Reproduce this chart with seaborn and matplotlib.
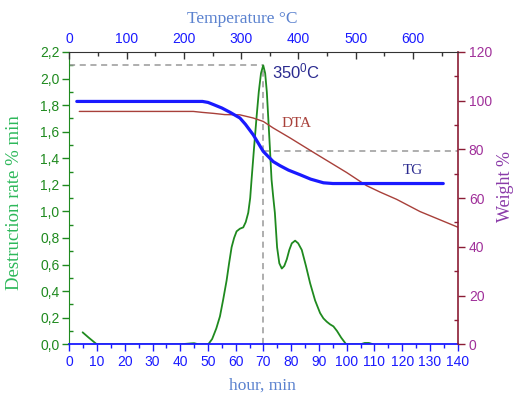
import numpy as np
import pandas as pd
import matplotlib
matplotlib.use("Agg")
import matplotlib.pyplot as plt
import seaborn as sns
from matplotlib.ticker import MultipleLocator, FuncFormatter

# ---- data ----
rate_time = [4.8, 7.0, 9.9, 20, 30, 40, 43.5, 45, 46.5, 50.1, 51.5, 53.0, 54.3, 55.5, 56.7, 57.6,
             58.5, 59.4, 60.3, 61.5, 62.7, 63.6, 64.5, 65.2, 65.7, 66.6, 67.5, 68.3, 69.1, 69.9,
             70.6, 71.2, 71.7, 72.3, 72.9, 73.5, 74.1, 74.9, 75.7, 76.6, 77.5, 78.4, 79.3, 80.2,
             81.4, 82.5, 83.8, 85.3, 86.8, 88.6, 90.4, 91.6, 92.8, 94.0, 95.2, 96.5, 98.0, 99.8,
             105, 106.5, 108, 109.5]
rate_val = [0.09, 0.05, 0.0, 0.0, 0.0, 0.0, 0.006, 0.008, 0.0, 0.0, 0.04, 0.12, 0.21, 0.34, 0.48, 0.61,
            0.73, 0.80, 0.85, 0.87, 0.88, 0.92, 0.99, 1.10, 1.24, 1.48, 1.71, 1.90, 2.04, 2.10,
            2.04, 1.90, 1.71, 1.48, 1.24, 1.11, 0.99, 0.73, 0.61, 0.57, 0.59, 0.64, 0.71, 0.76,
            0.78, 0.76, 0.71, 0.59, 0.46, 0.33, 0.235, 0.195, 0.17, 0.15, 0.135, 0.10, 0.05, 0.0,
            0.0, 0.01, 0.01, 0.0]

tg_time = [2.7, 48, 50, 52, 55, 58, 61.5, 63.5, 66.3, 69.9, 73.5, 76, 79, 83.2, 87, 91.6, 95, 134.8]
tg_val = [99.7, 99.7, 99.3, 98.4, 97.0, 95.2, 92.9, 90.3, 86.0, 79.2, 75.0, 73.3, 71.5, 69.6, 67.8, 66.3, 66.0, 66.0]

dta_time = [3.6, 44.7, 48, 52, 56, 61.5, 66.3, 69.9, 73.5, 79.6, 88, 100, 107.2, 112, 118, 126.4, 140]
dta_val = [95.6, 95.6, 95.2, 94.8, 94.3, 94.2, 92.9, 91.5, 88.8, 84.7, 78.8, 70.5, 65.1, 62.5, 59.5, 54.5, 48.1]

left_ticks = [0.0, 0.2, 0.4, 0.6, 0.8, 1.0, 1.2, 1.4, 1.6, 1.8, 2.0, 2.2]
bottom_ticks = list(range(0, 141, 10))
right_ticks = [0, 20, 40, 60, 80, 100, 120]
top_ticks = [0, 100, 200, 300, 400, 500, 600]
temp_max = 678  # temperature at 140 min

rate_df = pd.DataFrame({"time": rate_time, "rate": rate_val})
tg_df = pd.DataFrame({"time": tg_time, "weight": tg_val})
dta_df = pd.DataFrame({"time": dta_time, "weight": dta_val})

# ---- style ----
sns.set_style("white")
plt.rcParams["font.family"] = ["Liberation Sans", "DejaVu Sans"]
plt.rcParams["mathtext.fontset"] = "custom"
plt.rcParams["mathtext.rm"] = "Liberation Sans"
plt.rcParams["mathtext.default"] = "rm"

GREEN = "#1f8a1f"
GREEN_LBL = "#2db85a"
BLUE = "#1a1aff"
BLUE_LBL = "#5b82cf"
PURPLE = "#a0309a"
PURPLE_LBL = "#8a3aa8"
DARKRED = "#8b1c35"
BROWN = "#a8403a"
NAVY = "#2a2a8f"

fig = plt.figure(figsize=(5.16, 3.96), dpi=100)
ax = fig.add_axes([0.1343, 0.1306, 0.7527, 0.7381])
ax2 = ax.twinx()
ax3 = ax.twiny()

sns.lineplot(data=rate_df, x="time", y="rate", ax=ax, color=GREEN, lw=1.3, sort=False)
sns.lineplot(data=dta_df, x="time", y="weight", ax=ax2, color=BROWN, lw=1.0, sort=False)
sns.lineplot(data=tg_df, x="time", y="weight", ax=ax2, color=BLUE, lw=2.3, sort=False)

ax.set_xlim(0, 140)
ax.set_ylim(0, 2.2)
ax2.set_ylim(0, 120)
ax3.set_xlim(0, temp_max)

# guide lines from the peak
ipk = int(np.argmax(rate_val))
pk_t, pk_v = rate_time[ipk], rate_val[ipk]
tg_at_pk = float(np.interp(pk_t, tg_time, tg_val))
ax.plot([0, pk_t], [pk_v, pk_v], ls=(0, (4, 3)), color="#999999", lw=1.1, zorder=1)
ax.plot([pk_t, pk_t], [0, pk_v], ls=(0, (4, 3)), color="#999999", lw=1.1, zorder=1)
ax2.plot([pk_t, 140], [tg_at_pk, tg_at_pk], ls=(0, (4, 3)), color="#999999", lw=1.1, zorder=1)

ax.text(pk_t + 3.2, 2.0, "350$^0$C", color=NAVY, fontsize=12, ha="left", va="baseline")
ax2.text(82, 90.5, "DTA", color=BROWN, fontsize=11, family=["Liberation Serif"], ha="center", va="center")
ax2.text(124, 71.5, "TG", color=NAVY, fontsize=11, family=["Liberation Serif"], ha="center", va="center")

# ---- axes formatting ----
for a in (ax, ax2, ax3):
    for s in a.spines.values():
        s.set_visible(False)
    a.set_xlabel("")
    a.set_ylabel("")

ax.spines["left"].set_visible(True)
ax.spines["left"].set_color(GREEN)
ax.spines["bottom"].set_visible(True)
ax.spines["bottom"].set_color(BLUE)
ax.spines["bottom"].set_linewidth(1.3)
ax2.spines["right"].set_visible(True)
ax2.spines["right"].set_color(DARKRED)
ax2.spines["right"].set_linewidth(1.2)
ax3.spines["top"].set_visible(True)
ax3.spines["top"].set_color("#333333")

ax.set_yticks(left_ticks)
ax.yaxis.set_minor_locator(MultipleLocator(0.1))
ax.yaxis.set_major_formatter(FuncFormatter(lambda v, p: f"{v:.1f}".replace(".", ",")))
ax.tick_params(axis="y", which="major", direction="out", length=5, width=1, color=GREEN,
               labelcolor=GREEN, labelsize=10, pad=2, left=True)
ax.tick_params(axis="y", which="minor", direction="in", length=3, width=1, color=GREEN, left=True)

ax.set_xticks(bottom_ticks)
ax.xaxis.set_minor_locator(MultipleLocator(5))
ax.tick_params(axis="x", which="major", direction="out", length=5, width=1, color=BLUE,
               labelcolor=BLUE, labelsize=10, pad=3, bottom=True)
ax.tick_params(axis="x", which="minor", direction="out", length=3, width=1, color=BLUE, bottom=True)

ax2.set_yticks(right_ticks)
ax2.yaxis.set_minor_locator(MultipleLocator(10))
ax2.tick_params(axis="y", which="major", direction="out", length=5, width=1, color=DARKRED,
                labelcolor=PURPLE, labelsize=10, pad=3, right=True)
ax2.tick_params(axis="y", which="minor", direction="in", length=3, width=1, color=DARKRED, right=True)

ax3.set_xticks(top_ticks)
ax3.xaxis.set_minor_locator(MultipleLocator(50))
ax3.tick_params(axis="x", which="major", direction="in", length=5, width=1, color="#333333",
                labelcolor=BLUE, labelsize=10, pad=4, top=True)
ax3.tick_params(axis="x", which="minor", direction="in", length=3, width=1, color="#333333", top=True)

# ---- axis titles ----
fig.text(242 / 516, 1 - 19 / 396, "Temperature \u00b0C", color=BLUE_LBL, fontsize=12.5,
         family=["Liberation Serif"], ha="center", va="center")
fig.text(262 / 516, 1 - 386 / 396, "hour, min", color=BLUE_LBL, fontsize=12.5,
         family=["Liberation Serif"], ha="center", va="center")
fig.text(15 / 516, 1 - 203 / 396, "Destruction rate % min", color=GREEN_LBL, fontsize=13.5,
         family=["Liberation Serif"], ha="center", va="center", rotation=90)
fig.text(506 / 516, 1 - 186 / 396, "Weight %", color=PURPLE_LBL, fontsize=13,
         family=["Liberation Serif"], ha="center", va="center", rotation=90)

fig.savefig("out.png", dpi=100)
